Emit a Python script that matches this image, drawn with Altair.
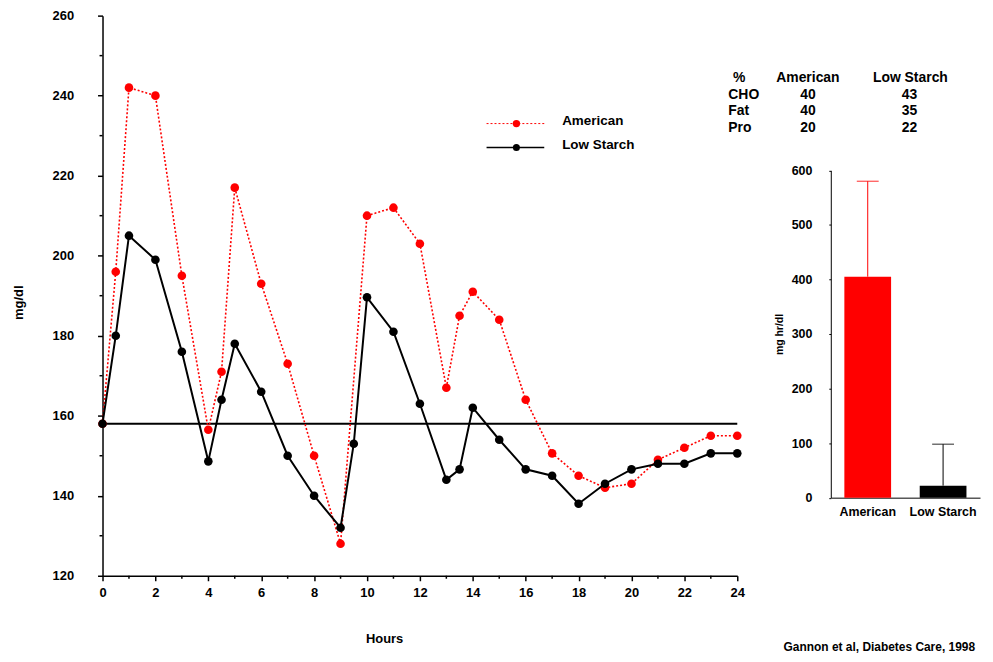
import altair as alt
import pandas as pd

# ---------------- data ----------------
hours_am = [0, 0.5, 1, 2, 3, 4, 4.5, 5, 6, 7, 8, 9, 10, 11, 12, 13, 13.5, 14, 15,
            16, 17, 18, 19, 20, 21, 22, 23, 24]
american = [158, 196, 242, 240, 195, 156.5, 171, 217, 193, 173, 150, 128, 210, 212,
            203, 167, 185, 191, 184, 164, 150.6, 145, 142, 143, 149, 152, 155, 155]

hours_ls = [0, 0.5, 1, 2, 3, 4, 4.5, 5, 6, 7, 8, 9, 9.5, 10, 11, 12, 13, 13.5, 14,
            15, 16, 17, 18, 19, 20, 21, 22, 23, 24]
low_starch = [158, 180, 205, 199, 176, 148.6, 164, 178, 166, 150, 140, 132, 153,
              189.6, 181, 163, 144, 146.6, 162, 154, 146.6, 145, 138, 143, 146.6,
              148, 148, 150.6, 150.6]

baseline = [158]
x_ticks = list(range(0, 25, 2))
x_minor = list(range(1, 24, 2))
y_ticks = list(range(120, 261, 20))
y_minor = list(range(130, 260, 20))

bar_cats = ["American", "Low Starch"]
bar_vals = [405, 22]
bar_err = [580, 98]
bar_ticks = list(range(0, 601, 100))

table_header = ["%", "American", "Low Starch"]
table_rows = ["CHO", "Fat", "Pro"]
pct_american = [40, 40, 20]
pct_lowstarch = [43, 35, 22]
source_note = "Gannon et al, Diabetes Care, 1998"

RED = "#ff0000"
BLACK = "#000000"
FONT = "Liberation Sans"

H = 563  # main plot height

am_df = pd.DataFrame({"h": hours_am, "v": american})
ls_df = pd.DataFrame({"h": hours_ls, "v": low_starch})
base_df = pd.DataFrame({"v": baseline})
xmin_df = pd.DataFrame({"h": x_minor})
ymin_df = pd.DataFrame({"v": y_minor})

X = alt.X("h:Q", scale=alt.Scale(domain=[0, 24], nice=False),
          axis=alt.Axis(values=x_ticks, format="d", title="Hours", titleX=283,
                        titlePadding=33, tickSize=5, labelPadding=6,
                        labelFlush=False, domainWidth=1.5, tickWidth=1.5,
                        labelFontSize=13, titleFontSize=13))
Y = alt.Y("v:Q", scale=alt.Scale(domain=[120, 260], nice=False),
          axis=alt.Axis(values=y_ticks, format="d", title="mg/dl", titleY=288,
                        titlePadding=27, tickSize=5, labelPadding=24,
                        labelFlush=False, domainWidth=1.5, tickWidth=1.5,
                        labelFontSize=13, titleFontSize=13))

hline = alt.Chart(base_df).mark_rule(color=BLACK, strokeWidth=2).encode(y=Y)
am_line = alt.Chart(am_df).mark_line(color=RED, strokeWidth=1.6,
                                     strokeDash=[2, 2]).encode(x=X, y=Y)
am_pts = alt.Chart(am_df).mark_circle(color=RED, size=75, opacity=1).encode(x=X, y=Y)
ls_line = alt.Chart(ls_df).mark_line(color=BLACK, strokeWidth=2).encode(x=X, y=Y)
ls_pts = alt.Chart(ls_df).mark_circle(color=BLACK, size=75, opacity=1).encode(x=X, y=Y)

xminor = alt.Chart(xmin_df).mark_rule(color=BLACK, strokeWidth=1.5).encode(
    x=X, y=alt.value(H), y2=alt.value(H + 3))
yminor = alt.Chart(ymin_df).mark_rule(color=BLACK, strokeWidth=1.5).encode(
    y=Y, x=alt.value(-3), x2=alt.value(0))

legend_layers = []
for name, col, dash, ly, lw, sz in [("American", RED, [2, 2], 108.5, 1, 55),
                                    ("Low Starch", BLACK, [1, 0], 132.5, 1.5, 50)]:
    ldf = pd.DataFrame({"label": [name]})
    legend_layers.append(alt.Chart(ldf).mark_rule(color=col, strokeWidth=lw,
                                                  strokeDash=dash).encode(
        x=alt.value(386), x2=alt.value(444), y=alt.value(ly)))
    legend_layers.append(alt.Chart(ldf).mark_circle(color=col, size=sz, opacity=1).encode(
        x=alt.value(416), y=alt.value(ly)))
    legend_layers.append(alt.Chart(ldf).mark_text(font=FONT, fontWeight="bold",
                                                  fontSize=13.5, align="left",
                                                  baseline="middle", color=BLACK).encode(
        x=alt.value(462), y=alt.value(ly - 2.5), text="label:N"))

main = alt.layer(hline, am_line, am_pts, ls_line, ls_pts, xminor, yminor,
                 *legend_layers).properties(width=638, height=H)

# ---------------- bar panel ----------------
BH = 484.5
bar_df = pd.DataFrame({"cat": bar_cats, "v": bar_vals, "err": bar_err})
BX = alt.X("cat:N", sort=bar_cats,
           scale=alt.Scale(paddingInner=0.38, paddingOuter=0.18),
           axis=alt.Axis(title=None, labelAngle=0, ticks=False, tickSize=0,
                         labelPadding=8, labelFontSize=12.5, domainWidth=1))
BY = alt.Y("v:Q", scale=alt.Scale(domain=[0, 600], range=[BH, 155.5], nice=False),
           axis=alt.Axis(values=bar_ticks, format="d", title="mg hr/dl",
                         tickSize=2, labelPadding=17, labelFontSize=12.5,
                         titleFontSize=10.5, titlePadding=7, domainWidth=1,
                         tickWidth=1))
BC = alt.Color("cat:N", scale=alt.Scale(domain=bar_cats, range=[RED, BLACK]),
               legend=None)

bars = alt.Chart(bar_df).mark_bar().encode(x=BX, y=BY, color=BC)
err_rule = alt.Chart(bar_df).mark_rule(strokeWidth=1).encode(
    x=BX, y=BY, y2="err:Q", color=BC)
err_cap = alt.Chart(bar_df).mark_tick(size=22, thickness=1.2).encode(
    x=BX, y=alt.Y("err:Q"), color=BC)

text_layers = []


def txt(s, x, y, align="center", size=14):
    d = pd.DataFrame({"t": [s]})
    return alt.Chart(d).mark_text(font=FONT, fontWeight="bold", fontSize=size,
                                  align=align, baseline="middle",
                                  color=BLACK).encode(
        x=alt.value(x), y=alt.value(y), text="t:N")


col_x = [-92, -23, 80]
text_layers.append(txt(table_header[0], col_x[0], 62.5))
text_layers.append(txt(table_header[1], col_x[1], 62.5))
text_layers.append(txt(table_header[2], col_x[2], 62.5))
row_y = [79.5, 96, 113]
for i, r in enumerate(table_rows):
    text_layers.append(txt(r, -103, row_y[i], align="left"))
    text_layers.append(txt(str(pct_american[i]), col_x[1], row_y[i]))
    text_layers.append(txt(str(pct_lowstarch[i]), col_x[2] - 1, row_y[i]))
text_layers.append(txt(source_note, 145, 634.5, align="right", size=12))

barpanel = alt.layer(bars, err_rule, err_cap, *text_layers).properties(
    width=150, height=BH)

chart = alt.hconcat(main, barpanel, spacing=94, bounds="flush").properties(
    padding={"left": 4, "top": 0, "right": 5, "bottom": 5}
).configure_view(stroke=None).configure_axis(
    labelFont=FONT, titleFont=FONT, labelFontWeight="bold",
    titleFontWeight="bold", labelColor=BLACK, titleColor=BLACK,
    domainColor=BLACK, tickColor=BLACK, grid=False
)

chart.save("out.html", embed_options={"renderer": "svg", "actions": False})
